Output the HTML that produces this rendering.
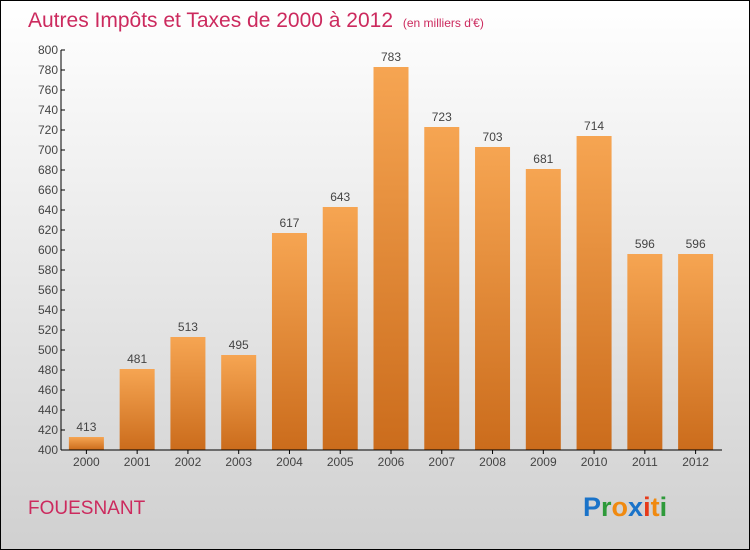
<!DOCTYPE html>
<html><head><meta charset="utf-8"><style>
body{margin:0}
#c{width:750px;height:550px;position:relative;overflow:hidden}
text{font-family:"Liberation Sans",sans-serif}
</style></head><body>
<div id="c">
<svg id="s" width="750" height="550" xmlns="http://www.w3.org/2000/svg">
<defs>
<linearGradient id="bg" x1="0" y1="0" x2="0" y2="1"><stop offset="0" stop-color="#ffffff"/><stop offset="1" stop-color="#d0d0d0"/></linearGradient>
<linearGradient id="bar" x1="0" y1="0" x2="0" y2="1"><stop offset="0" stop-color="#f6a552"/><stop offset="1" stop-color="#cb6c1c"/></linearGradient>
</defs>
<rect x="0.5" y="0.5" width="749" height="549" fill="url(#bg)" stroke="#000"/>
<text x="28" y="27" font-size="21" fill="#cc2a5e">Autres Impôts et Taxes de 2000 à 2012 <tspan font-size="12" dx="4">(en milliers d'€)</tspan></text>
<g id="plot"></g>
<text x="28" y="514" font-size="19" fill="#cc2a5e">FOUESNANT</text>
<text x="583" y="516" font-size="27" font-weight="bold"><tspan fill="#1a73c9">P</tspan><tspan fill="#2e9a3a">r</tspan><tspan fill="#f08a10">o</tspan><tspan fill="#1a73c9">x</tspan><tspan fill="#e63a1a">i</tspan><tspan fill="#f08a10">t</tspan><tspan fill="#2e9a3a">i</tspan></text>
</svg>
</div>
<script>
const categories=["2000","2001","2002","2003","2004","2005","2006","2007","2008","2009","2010","2011","2012"];
const values=[413,481,513,495,617,643,783,723,703,681,714,596,596];
const yTicks=[400,420,440,460,480,500,520,540,560,580,600,620,640,660,680,700,720,740,760,780,800];
const NS="http://www.w3.org/2000/svg";
const g=document.getElementById('plot');
const x0=61,x1=721,yTop=50,yBot=450,yMin=400,yMax=800;
const band=(x1-x0)/categories.length;
const y=v=>yBot-(v-yMin)/(yMax-yMin)*(yBot-yTop);
const xc=i=>x0+band*(i+0.5);
function mk(t,a){const e=document.createElementNS(NS,t);for(const k in a)e.setAttribute(k,a[k]);g.appendChild(e);return e;}
values.forEach((v,i)=>{
 const r=mk('rect',{x:xc(i)-17.5,y:y(v),width:35,height:yBot-y(v),fill:'url(#bar)'});
 
 
 const t=mk('text',{x:xc(i),y:y(v)-6,'font-size':12,'text-anchor':'middle',fill:'#444'});
 t.textContent=v;
 
 
 const l=mk('text',{x:xc(i),y:466,'font-size':12,'text-anchor':'middle',fill:'#444'});
 l.textContent=categories[i];
 
 
 const tk=mk('line',{x1:xc(i),x2:xc(i),y1:450,y2:454,stroke:'#000'});
 
 
});
yTicks.forEach(v=>{
 const tk=mk('line',{x1:61,x2:65,y1:y(v),y2:y(v),stroke:'#000'});
 
 
 const t=mk('text',{x:58,y:y(v)+4,'font-size':12,'text-anchor':'end',fill:'#444'});
 t.textContent=v;
 
 
});
const ya=mk('line',{x1:61,x2:61,y1:50,y2:450,stroke:'#000'});


const xa=mk('line',{x1:61,x2:722,y1:450,y2:450,stroke:'#000'});


</script>
</body></html>
